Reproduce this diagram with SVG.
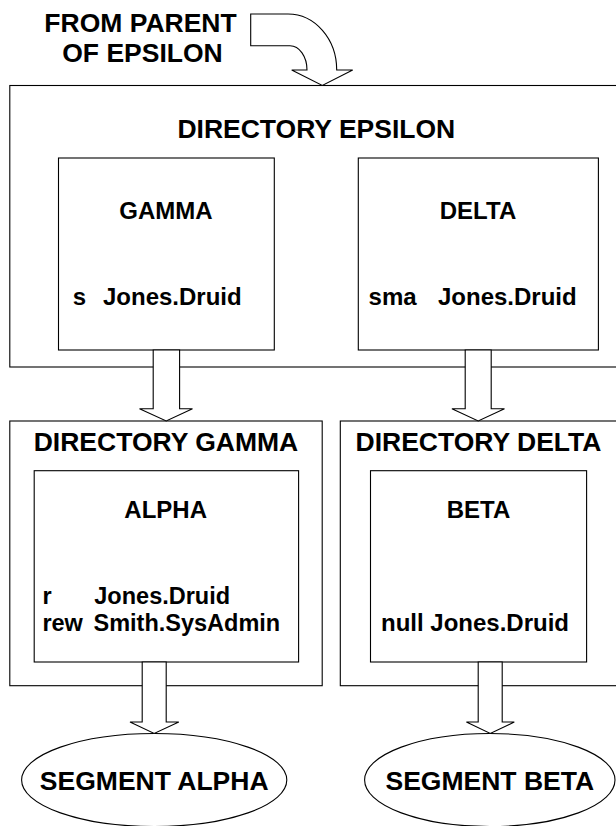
<svg xmlns="http://www.w3.org/2000/svg" width="616" height="826" viewBox="0 0 616 826">
<style>
.box{fill:#fff;stroke:#000;stroke-width:1.1}
.arr{fill:#fff;stroke:#000;stroke-width:1.1;stroke-linejoin:miter}
text{font-family:"Liberation Sans",Arial,Helvetica,sans-serif;font-weight:bold;fill:#000}
.big{font-size:26.5px}
.mid{font-size:24px}
.acl{font-size:23.5px}
.c{text-anchor:middle}
</style>
<rect width="616" height="826" fill="#fff"/>
<g id="from-parent-label">
<text class="big c" x="140.5" y="32">FROM PARENT</text>
<text class="big c" x="142.5" y="62">OF EPSILON</text>
</g>
<g id="directory-epsilon">
<rect class="box" x="9.8" y="85.5" width="620" height="281.5"/>
<text class="big c" x="316.3" y="138">DIRECTORY EPSILON</text>
</g>
<g id="gamma">
<rect class="box" x="58.5" y="158" width="215.8" height="192"/>
<text class="mid c" x="166" y="219">GAMMA</text>
<text class="mid" x="72.7" y="305">s</text>
<text class="mid" x="103" y="305">Jones.Druid</text>
</g>
<g id="delta">
<rect class="box" x="358.3" y="158" width="240.1" height="192"/>
<text class="mid c" x="478" y="219">DELTA</text>
<text class="mid" x="368.6" y="305">sma</text>
<text class="mid" x="438" y="305">Jones.Druid</text>
</g>
<g id="directory-gamma">
<rect class="box" x="9.8" y="421" width="312.4" height="264.7"/>
<text class="big c" x="166" y="451">DIRECTORY GAMMA</text>
</g>
<g id="directory-delta">
<rect class="box" x="340.3" y="421" width="290" height="264.7"/>
<text class="big c" x="478.5" y="451">DIRECTORY DELTA</text>
</g>
<g id="alpha">
<rect class="box" x="34.2" y="470.7" width="264.4" height="191.3"/>
<text class="mid c" x="165.7" y="518">ALPHA</text>
<text class="acl" x="42.4" y="603.5">r</text>
<text class="acl" x="94.3" y="603.5">Jones.Druid</text>
<text class="acl" x="42.4" y="631">rew</text>
<text class="acl" x="93.5" y="631">Smith.SysAdmin</text>
</g>
<g id="beta">
<rect class="box" x="370.5" y="470.7" width="216.1" height="191.3"/>
<text class="mid c" x="478.5" y="518">BETA</text>
<text class="mid" x="381" y="631">null Jones.Druid</text>
</g>
<g id="segment-alpha">
<ellipse class="box" cx="154.2" cy="780" rx="132.6" ry="46.5"/>
<text class="big c" x="154.2" y="790">SEGMENT ALPHA</text>
</g>
<g id="segment-beta">
<ellipse class="box" cx="489.8" cy="780" rx="125.2" ry="46.5"/>
<text class="big c" x="489.8" y="790">SEGMENT BETA</text>
</g>
<g id="connectors">
<path class="arr" d="M250.7,14 L288,14 A48.7,56 0 0 1 336.7,70 L352.7,70 L322.3,85.5 L291.7,70 L307,70 A17,24.3 0 0 0 290,45.7 L250.7,45.7 Z"/>
<path class="arr" d="M153.2,350 L179.6,350 L179.6,408.7 L192.5,408.7 L166.2,421 L139.5,408.7 L153.2,408.7 Z"/>
<path class="arr" d="M465.2,350 L491.2,350 L491.2,408.7 L504.5,408.7 L478.2,421 L451.9,408.7 L465.2,408.7 Z"/>
<path class="arr" d="M142.2,662 L166.2,662 L166.2,722 L178.8,722 L154.2,733.5 L130,722 L142.2,722 Z"/>
<path class="arr" d="M478.2,662 L502.2,662 L502.2,722 L514.3,722 L490.3,733.5 L466.4,722 L478.2,722 Z"/>
</g>
</svg>
